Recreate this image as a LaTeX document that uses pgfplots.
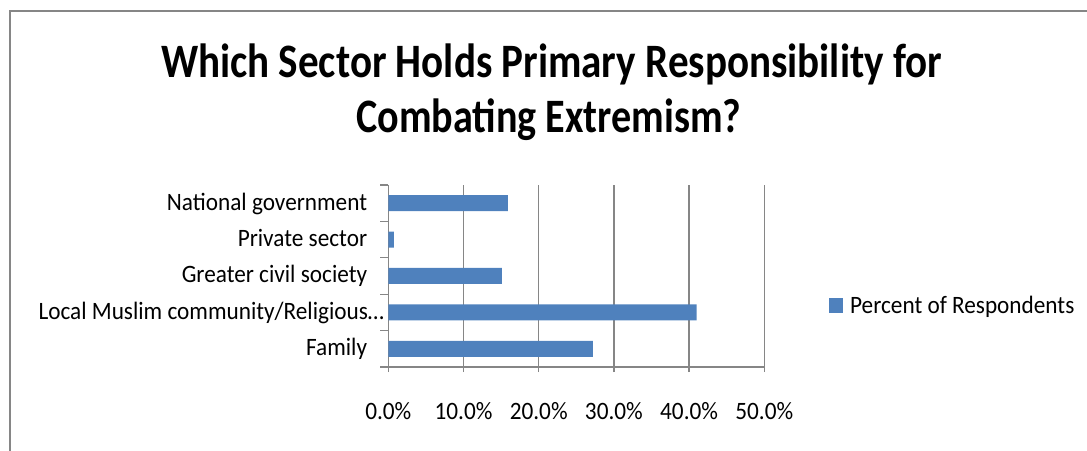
\documentclass[border=0pt]{standalone}
\usepackage{pgfplots}
\pgfplotsset{compat=1.18}
\usepackage{fontspec}
\setmainfont{Carlito}[FakeStretch=0.93]
\definecolor{barblue}{HTML}{4F81BD}
\definecolor{gridgray}{HTML}{868686}
\begin{document}
\begin{tikzpicture}
\useasboundingbox (0pt,0pt) rectangle (1087pt,450pt);
\draw[gridgray, line width=1.5pt] (10pt,-10pt) -- (10pt,439pt) -- (1100pt,439pt);
\node[anchor=base, inner sep=0pt] at (551.5pt,372pt) {\resizebox{781pt}{\height}{\fontsize{48}{56}\selectfont\bfseries Which Sector Holds Primary Responsibility for}};
\node[anchor=base, inner sep=0pt] at (549pt,317pt) {\resizebox{385pt}{\height}{\fontsize{48}{56}\selectfont\bfseries Combating Extremism?}};
\begin{axis}[
  scale only axis, width=376pt, height=182pt,
  at={(388.3pt,83pt)}, anchor=south west,
  xbar, bar width=16pt,
  xmin=0, xmax=50, ymin=-0.5, ymax=4.5,
  xtick={0,10,20,30,40,50},
  xticklabels={0.0\%,10.0\%,20.0\%,30.0\%,40.0\%,50.0\%},
  ytick={0,1,2,3,4},
  yticklabels={Family, Local Muslim community/Religious…\kern-17pt, Greater civil society, Private sector, National government},
  minor ytick={-0.5,0.5,1.5,2.5,3.5,4.5},
  tick align=outside,
  major tick length=5pt, minor tick length=8pt,
  major y tick style={draw=none},
  tick style={gridgray, line width=1.3pt},
  xmajorgrids, major grid style={gridgray, line width=1.3pt},
  axis x line*=bottom, axis y line*=left,
  axis line style={gridgray, line width=1.3pt},
  tick label style={font=\fontsize{25}{30}\selectfont, text=black},
  xticklabel style={anchor=base, inner sep=0pt, yshift=-47pt},
  yticklabel style={anchor=base east, inner sep=0pt, xshift=-16pt, yshift=-7pt},
  legend style={draw=none, fill=none, at={(1.172,0.338)}, anchor=west, inner sep=0pt,
    font=\fontsize{25}{30}\selectfont, nodes={inner sep=2pt}},
  legend cell align=left,
  legend image code/.code={\fill[barblue] (0pt,-7.5pt) rectangle (14pt,7.5pt);},
]
\addplot[fill=barblue, draw=none] coordinates {(27.2,0) (41.0,1) (15.1,2) (0.75,3) (15.9,4)};
\legend{\kern5pt Percent of Respondents}
\end{axis}
\end{tikzpicture}
\end{document}
